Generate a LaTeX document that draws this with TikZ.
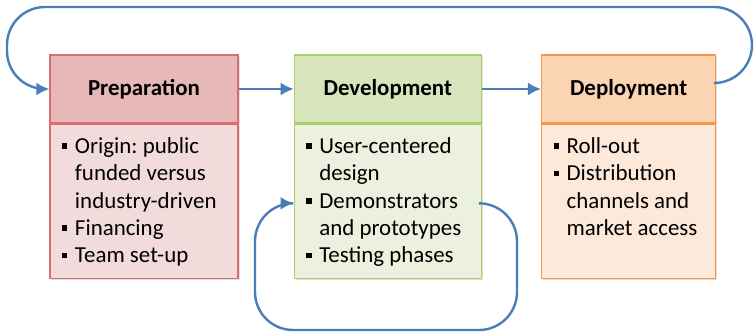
\documentclass[tikz,border=0pt]{standalone}
\usepackage{fontspec}
\setmainfont{Carlito}
\usepackage{tikz}
\usetikzlibrary{positioning, calc, arrows.meta, shadows}

\definecolor{arrowblue}{HTML}{4A7EBB}
\definecolor{prepline}{HTML}{DA6E6E}
\definecolor{prephead}{HTML}{E6B8B7}
\definecolor{prepbody}{HTML}{F2DCDB}
\definecolor{devline}{HTML}{A8D06A}
\definecolor{devhead}{HTML}{D7E4BC}
\definecolor{devbody}{HTML}{EBF1DE}
\definecolor{depline}{HTML}{F79646}
\definecolor{dephead}{HTML}{FBD4B4}
\definecolor{depbody}{HTML}{FDE9D9}

\frenchspacing
\newcommand{\bulletline}[1]{\par\hangindent=13bp\hangafter=1\noindent
  \makebox[13bp][l]{\raisebox{4.5bp}{\rule{5.5bp}{5.5bp}}}#1\par}

\begin{document}
\begin{tikzpicture}[x=1bp, y=1bp,
    head/.style={draw, line width=1.3bp, minimum height=68bp, inner sep=0pt,
      font=\bfseries\fontsize{23}{27}\selectfont,
      drop shadow={shadow xshift=1.5bp, shadow yshift=-1.5bp, opacity=0.25}},
    body/.style={draw, line width=1.3bp, minimum height=154bp, inner sep=0pt,
      font=\fontsize{23}{27.5}\selectfont,
      drop shadow={shadow xshift=1.5bp, shadow yshift=-1.5bp, opacity=0.25}},
    flow/.style={draw=arrowblue, line width=2.4bp, rounded corners=38bp,
      -{Latex[length=13bp, width=13bp]}}]

  \useasboundingbox (0,0) rectangle (754,335);

  % 見出し
  \node[head, draw=prepline, fill=prephead, minimum width=188bp] (prep) at (144,246) {Preparation};
  \node[head, draw=devline, fill=devhead, minimum width=187bp, right=55bp of prep] (dev) {Development};
  \node[head, draw=depline, fill=dephead, minimum width=174bp, right=59bp of dev] (deploy) {Deployment};

  % 本文
  \node[body, draw=prepline, fill=prepbody, minimum width=188bp, below=0pt of prep] (prepbox)
    {\parbox[c][154bp][t]{164bp}{\raggedright\vspace*{13bp}%
      \bulletline{Origin: public\newline funded versus\newline industry-driven}%
      \bulletline{Financing}%
      \bulletline{Team set-up}}};
  \node[body, draw=devline, fill=devbody, minimum width=187bp, below=0pt of dev] (devbox)
    {\parbox[c][154bp][t]{163bp}{\raggedright\vspace*{13bp}%
      \bulletline{User-centered\newline design}%
      \bulletline{Demonstrators\newline and prototypes}%
      \bulletline{Testing phases}}};
  \node[body, draw=depline, fill=depbody, minimum width=174bp, below=0pt of deploy] (depbox)
    {\parbox[c][154bp][t]{150bp}{\raggedright\vspace*{13bp}%
      \bulletline{Roll-out}%
      \bulletline{Distribution\newline channels and\newline market access}}};

  % 矢印
  \draw[flow] (prep) -- (dev);
  \draw[flow] (dev) -- (deploy);

  % 外側のループ
  \coordinate (topright) at (752,328);
  \coordinate (topleft) at (7,328);
  \draw[flow] ([yshift=6bp]deploy.east) -| (topright) -- (topleft) |- (prep.west);

  % 下のループ
  \coordinate (loopright) at (517,5);
  \coordinate (loopleft) at (255,5);
  \draw[flow] ([yshift=-2bp]devbox.east) -| (loopright) -- (loopleft) |- ([yshift=-2bp]devbox.west);
\end{tikzpicture}
\end{document}
